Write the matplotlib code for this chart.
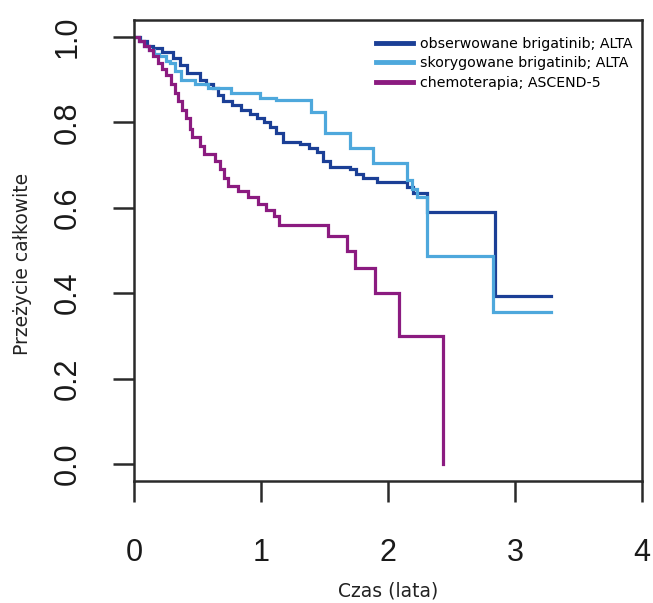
import matplotlib
matplotlib.use("Agg")
import matplotlib.pyplot as plt

# obserwowane brigatinib; ALTA
obs_t = [0, 0.05, 0.10, 0.15, 0.22, 0.31, 0.36, 0.42, 0.52, 0.57, 0.62, 0.66, 0.70,
         0.77, 0.84, 0.91, 0.97, 1.02, 1.07, 1.12, 1.17, 1.31, 1.38, 1.44, 1.49,
         1.54, 1.70, 1.75, 1.80, 1.91, 2.15, 2.20, 2.31, 2.84, 3.28]
obs_s = [1.0, 0.99, 0.98, 0.975, 0.965, 0.95, 0.935, 0.915, 0.90, 0.89, 0.88, 0.865, 0.85,
         0.84, 0.83, 0.82, 0.81, 0.80, 0.79, 0.775, 0.755, 0.75, 0.74, 0.73, 0.71,
         0.695, 0.69, 0.68, 0.67, 0.66, 0.648, 0.634, 0.59, 0.394, 0.394]

# skorygowane brigatinib; ALTA
adj_t = [0, 0.04, 0.08, 0.12, 0.16, 0.20, 0.25, 0.28, 0.32, 0.37, 0.48, 0.58, 0.76,
         0.99, 1.12, 1.39, 1.50, 1.70, 1.88, 2.15, 2.19, 2.23, 2.31, 2.83, 3.28]
adj_s = [1.0, 0.99, 0.98, 0.97, 0.96, 0.955, 0.945, 0.94, 0.92, 0.90, 0.89, 0.88, 0.868,
         0.858, 0.852, 0.824, 0.775, 0.74, 0.705, 0.665, 0.645, 0.625, 0.488, 0.355, 0.355]

# chemoterapia; ASCEND-5
chemo_t = [0, 0.04, 0.08, 0.12, 0.15, 0.19, 0.22, 0.25, 0.29, 0.32, 0.35, 0.38, 0.41,
           0.44, 0.46, 0.52, 0.55, 0.64, 0.68, 0.71, 0.74, 0.82, 0.90, 0.98, 1.04,
           1.10, 1.14, 1.53, 1.68, 1.74, 1.90, 2.09, 2.43]
chemo_s = [1.0, 0.99, 0.98, 0.97, 0.955, 0.94, 0.925, 0.91, 0.89, 0.87, 0.85, 0.83, 0.81,
           0.785, 0.765, 0.745, 0.725, 0.71, 0.69, 0.67, 0.65, 0.64, 0.625, 0.61, 0.595,
           0.58, 0.56, 0.535, 0.50, 0.46, 0.40, 0.30, 0.0]

labels = ["obserwowane brigatinib; ALTA", "skorygowane brigatinib; ALTA", "chemoterapia; ASCEND-5"]
colors = ["#1b3f96", "#4ea8dc", "#8b1b80"]

fig = plt.figure(figsize=(6.53, 6.03), dpi=100)
ax = fig.add_axes([134 / 653, 1 - 481 / 603, 508 / 653, 461 / 603])

for t, s, lab, c in zip([obs_t, adj_t, chemo_t], [obs_s, adj_s, chemo_s], labels, colors):
    ax.step(t, s, where="post", color=c, lw=2.3, label=lab, solid_joinstyle="miter")

ax.set_xlim(0, 4)
ax.set_ylim(-0.04, 1.04)
ax.set_xticks([0, 1, 2, 3, 4])
ax.set_yticks([0.0, 0.2, 0.4, 0.6, 0.8, 1.0])
ax.set_yticklabels(["0.0", "0.2", "0.4", "0.6", "0.8", "1.0"])

for sp in ax.spines.values():
    sp.set_linewidth(1.8)
    sp.set_color("#2a2a2a")

ax.tick_params(axis="both", length=15, width=1.8, color="#2a2a2a",
               labelsize=22, labelcolor="#1a1a1a")
ax.tick_params(axis="x", pad=26)
ax.tick_params(axis="y", pad=22)
for lbl in ax.get_xticklabels() + ax.get_yticklabels():
    lbl.set_family("Liberation Sans")
for lbl in ax.get_yticklabels():
    lbl.set_rotation(90)
    lbl.set_va("center")

ax.set_xlabel("Czas (lata)", fontsize=13.5, color="#222222", labelpad=10)
ax.set_ylabel("Przeżycie całkowite", fontsize=13.5, color="#222222")
ax.yaxis.set_label_coords(-0.2, 0.47)

leg = ax.legend(loc="upper left", bbox_to_anchor=(0.455, 0.988), frameon=False,
                fontsize=10.2, handlelength=2.6, handletextpad=0.5, labelspacing=0.38,
                borderaxespad=0.4)
for line in leg.get_lines():
    line.set_linewidth(3.5)

fig.savefig("out.png", dpi=100)
